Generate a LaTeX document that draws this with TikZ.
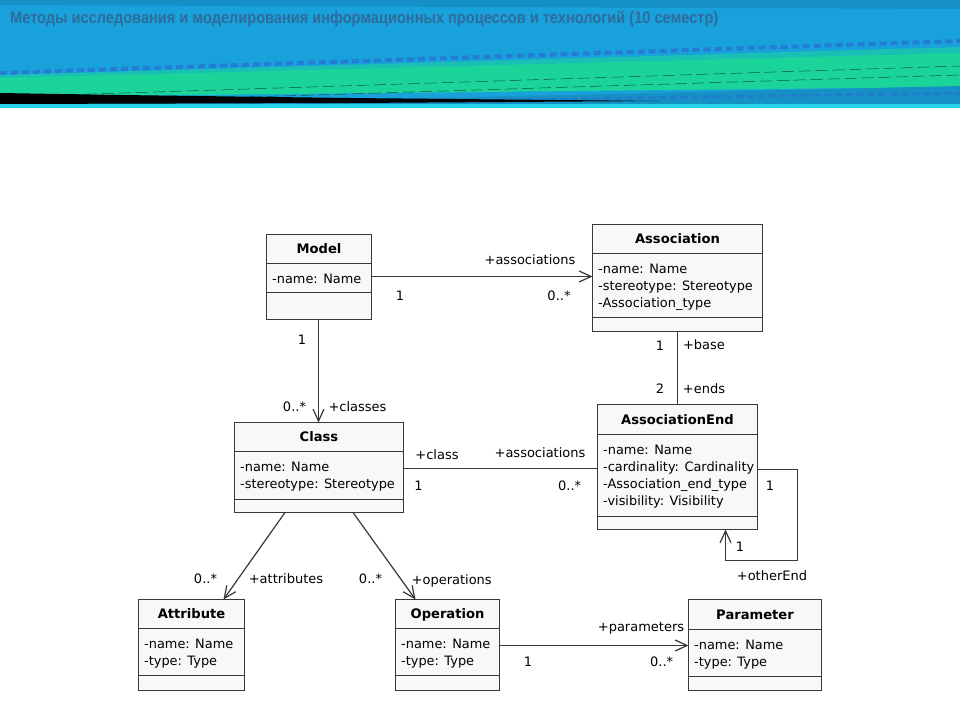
\documentclass[tikz,border=0pt]{standalone}
\usepackage{fontspec}
\setmainfont{DejaVu Sans}
\newfontfamily\hdrfont{Liberation Sans}
\usetikzlibrary{arrows.meta}
\definecolor{boxfill}{HTML}{F8F8F8}
\definecolor{boxline}{HTML}{383838}
\definecolor{hdrblue}{HTML}{19A1DB}
\definecolor{hdrtop}{HTML}{1490C6}
\definecolor{hdrgreen}{HTML}{1BD49A}
\definecolor{hdrstripe}{HTML}{2A6FD2}
\definecolor{hdrcyan}{HTML}{26D3E6}
\definecolor{hdrtext}{HTML}{2F6C9C}
\tikzset{
  umlbox/.style={draw=boxline, fill=boxfill, line width=1.2pt, inner sep=0pt, outer sep=0pt},
  umlline/.style={draw=boxline, line width=1.2pt},
  umltitle/.style={inner sep=0pt, font=\fontsize{13.1}{17}\selectfont\bfseries, text=black},
  umlattr/.style={inner sep=0pt, font=\fontsize{12.9}{17}\selectfont, text=black},
  lbl/.style={inner sep=0pt, anchor=base, font=\fontsize{13}{17}\selectfont, text=black},
  conn/.style={draw=boxline, line width=1.2pt},
  arr/.style={conn, -{Straight Barb[length=12pt,width=11pt,line width=1.2pt]}},
}
\newcommand\umlbox[9]{%
  \node[umlbox, minimum width={(#4-#2)*1pt}, minimum height={(#7-#3)*1pt}] (#1) at ({(#2+#4)/2},{(#3+#7)/2}) {};
  \draw[umlline] (#1.west |- 0,#5) -- (#1.east |- 0,#5);
  \draw[umlline] (#1.west |- 0,#6) -- (#1.east |- 0,#6);
  \node[umltitle, anchor=base] (#1-title) at ({(#2+#4)/2},{(#3+#5)/2+4.7}) {#8};
  \foreach \txt [count=\i] in {#9} {\node[umlattr, anchor=base west] (#1-attr\i) at ({#2+5.5},{#5+20+(\i-1)*17}) {\txt};}%
}
\begin{document}
\begin{tikzpicture}[x=1pt,y=-1pt]
\useasboundingbox (0,0) rectangle (960,717);
\fill[white] (0,0) rectangle (960,717);
% ---------- header ----------
\fill[hdrblue] (0,0) rectangle (960,106);
\fill[hdrtop] (0,0) -- (960,0) -- (960,9) -- (0,5) -- cycle;
\fill[hdrgreen] (0,77) -- (960,52) -- (960,87) -- (0,97) -- cycle;
\fill[hdrgreen!60!hdrblue] (0,75) -- (960,47) -- (960,53) -- (0,78) -- cycle;
\draw[hdrstripe, line width=4pt, opacity=0.7, dash pattern=on 7pt off 4pt] (0,73) -- (960,41);
\fill[hdrblue!90!black] (300,101) -- (960,86) -- (960,104) -- (300,104) -- cycle;
\draw[hdrstripe, line width=3pt, opacity=0.6, dash pattern=on 7pt off 4pt] (450,101) -- (960,93);
\draw[black!60!hdrgreen, line width=0.5pt, dash pattern=on 12pt off 5pt] (0,97) -- (960,66);
\draw[black!60!hdrgreen, line width=0.5pt, dash pattern=on 12pt off 5pt] (250,97) -- (960,75);
\fill[black] (0,93) -- (120,95) -- (350,98) -- (660,101) -- (350,103) -- (0,104) -- cycle;
\fill[hdrcyan] (0,104) rectangle (960,108);
\node[anchor=base west, inner sep=0pt, text=hdrtext] (hdr) at (10,24)
  {\resizebox{708pt}{12.5pt}{\hdrfont\bfseries Методы исследования и моделирования информационных процессов и технологий (10 семестр)}};
% ---------- classes ----------
\umlbox{model}{266.5}{234.5}{371.5}{263.5}{292.5}{319.5}{Model}{-name: Name}
\umlbox{assoc}{592.5}{224.5}{762.5}{253.5}{317.5}{331.5}{Association}{-name: Name,-stereotype: Stereotype,-Association\_type}
\umlbox{cls}{234.5}{422.5}{403.5}{451.5}{499.5}{512.5}{Class}{-name: Name,-stereotype: Stereotype}
\umlbox{aend}{597.5}{404.5}{757.5}{434.5}{516.5}{529.5}{AssociationEnd}{-name: Name,-cardinality: Cardinality,-Association\_end\_type,-visibility: Visibility}
\umlbox{attr}{138.5}{599.5}{244.5}{628.5}{675.5}{690.5}{Attribute}{-name: Name,-type: Type}
\umlbox{oper}{395.5}{599.5}{499.5}{628.5}{675.5}{690.5}{Operation}{-name: Name,-type: Type}
\umlbox{param}{688.5}{599.5}{821.5}{629.5}{676.5}{690.5}{Parameter}{-name: Name,-type: Type}
% ---------- connectors ----------
\draw[arr] (model.east |- 0,276.5) -- (assoc.west |- 0,276.5);
\draw[arr] ([xshift=-0.5pt]model.south) -- ([xshift=-0.5pt]model.south |- cls.north);
\draw[conn] (assoc.south) -- (assoc.south |- aend.north);
\draw[conn] (cls.east |- 0,468.5) -- (aend.west |- 0,468.5);
\coordinate (loopA) at (797.5,469.5);
\coordinate (loopB) at (797.5,560.5);
\draw[arr] (aend.east |- loopA) -- (loopA) -- (loopB) -| ([xshift=48pt]aend.south);
\draw[arr] ([xshift=-34pt]cls.south) -- ([xshift=32pt]attr.north);
\draw[arr] ([xshift=34pt]cls.south) -- ([xshift=-32pt]oper.north);
\draw[arr] (oper.east |- 0,645.5) -- (param.west |- 0,645.5);
% ---------- labels ----------
\node[lbl] (l1) at (530,264.5) {+associations};
\node[lbl] (l2) at (400,300.5) {1};
\node[lbl] (l3) at (559,300.5) {0..*};
\node[lbl] (l4) at (302,344.5) {1};
\node[lbl] (l5) at (294.5,411) {0..*};
\node[lbl] (l6) at (357.5,411) {+classes};
\node[lbl] (l7) at (660,350.5) {1};
\node[lbl] (l8) at (704,349.5) {+base};
\node[lbl] (l9) at (660,393.5) {2};
\node[lbl] (l10) at (704,393.5) {+ends};
\node[lbl] (l11) at (437,459) {+class};
\node[lbl] (l12) at (540,457) {+associations};
\node[lbl] (l13) at (418.5,490.5) {1};
\node[lbl] (l14) at (569.7,490.5) {0..*};
\node[lbl] (l15) at (770,490.5) {1};
\node[lbl] (l16) at (740,551) {1};
\node[lbl] (l17) at (772,580) {+otherEnd};
\node[lbl] (l18) at (205.5,583.5) {0..*};
\node[lbl] (l19) at (286,583.5) {+attributes};
\node[lbl] (l20) at (370.5,583.5) {0..*};
\node[lbl] (l21) at (451.7,584.5) {+operations};
\node[lbl] (l22) at (641,631.5) {+parameters};
\node[lbl] (l23) at (528,666) {1};
\node[lbl] (l24) at (661.7,666) {0..*};
\end{tikzpicture}
\end{document}
